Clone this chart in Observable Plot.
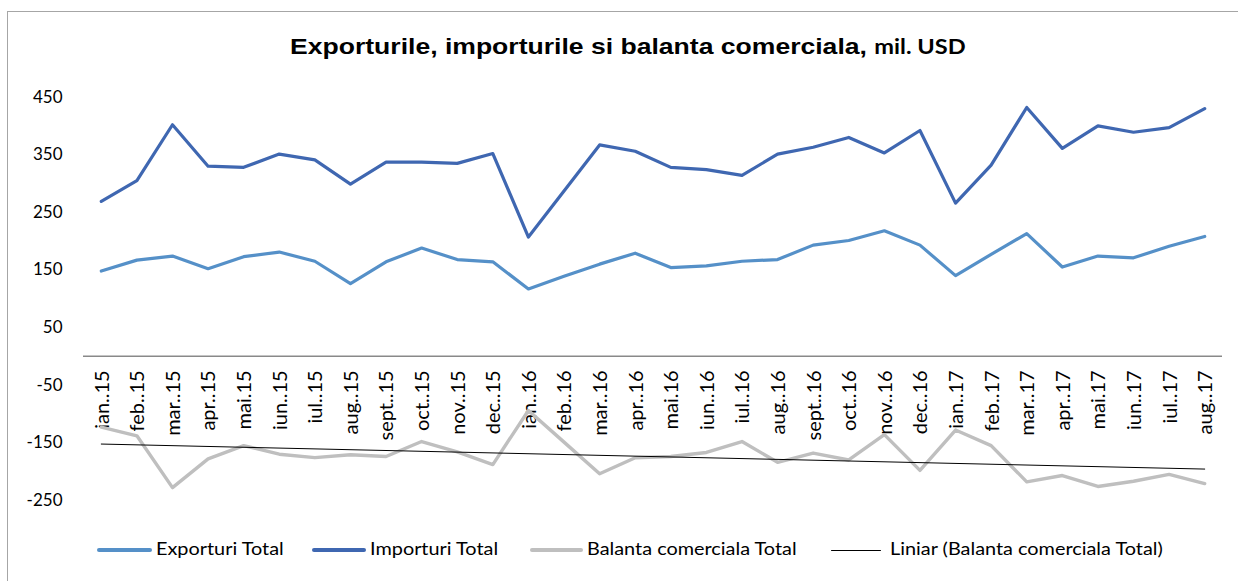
<!DOCTYPE html>
<html><head><meta charset="utf-8">
<script src="https://cdn.jsdelivr.net/npm/d3@7"></script>
<script src="https://cdn.jsdelivr.net/npm/@observablehq/plot@0.6"></script>
<style>
body{margin:0;background:#fff;}
#wrap{position:relative;width:1238px;height:581px;overflow:hidden;font-family:Lato,sans-serif;}
#frame{position:absolute;left:7px;top:11px;width:1300px;height:700px;border:1.3px solid #a6a6a6;box-sizing:border-box;}
#title{position:absolute;left:290px;top:33px;white-space:nowrap;font-family:"Liberation Sans",Arial,sans-serif;font-weight:bold;font-size:22.5px;line-height:26px;color:#000;transform:scaleX(1.18);transform-origin:0 0;}
#title span{font-family:Lato,sans-serif;font-size:20px;}
#chart{position:absolute;left:0;top:0;}
.leg{position:absolute;top:537px;height:24px;font-size:17.5px;color:#000;white-space:nowrap;}
.sw{position:absolute;top:12px;}
.lt{position:absolute;top:0;line-height:24px;transform:scaleX(1.135);transform-origin:0 0;}
</style></head>
<body>
<div id="wrap">
  <div id="frame"></div>
  <div id="chart"></div>
  <div id="title">Exporturile, importurile si balanta comerciala, <span>mil. USD</span></div>
  <div id="legend"></div>
</div>
<script>
const months = ["ian..15","feb..15","mar..15","apr..15","mai.15","iun..15","iul..15","aug..15","sept..15","oct..15","nov..15","dec..15",
  "ian..16","feb..16","mar..16","apr..16","mai.16","iun..16","iul..16","aug..16","sept..16","oct..16","nov..16","dec..16",
  "ian..17","feb..17","mar..17","apr..17","mai.17","iun..17","iul..17","aug..17"];
const exportsTotal = [148,167,174,152,173,181,165,126,164,188,168,164,
  117,139,160,179,154,157,165,168,193,201,218,193,
  140,177,213,155,174,171,191,208];
const importsTotal = [269,305,402,330,328,351,341,299,337,337,335,352,
  207,287,367,356,328,324,314,351,363,380,353,392,
  266,332,432,361,400,389,397,430];
const balanceTotal = [-123,-138,-228,-178,-155,-170,-176,-171,-174,-148,-166,-188,
  -94,-149,-204,-176,-174,-167,-148,-184,-168,-180,-136,-198,
  -128,-155,-218,-207,-226,-217,-205,-221];
const yTicks = [-250,-150,-50,50,150,250,350,450];

const colors = {exp:"#5590c8", imp:"#3f67b1", bal:"#bfbfbf", trend:"#000000"};
const data = months.map((m,i)=>({i, m, exp:exportsTotal[i], imp:importsTotal[i], bal:balanceTotal[i]}));

const chart = Plot.plot({
  width:1238, height:581,
  marginLeft:83, marginRight:16, marginTop:96.6, marginBottom:81.2,
  style:{fontFamily:"Lato, sans-serif", fontSize:"17px", background:"transparent", color:"#000"},
  x:{domain:[-0.5, months.length-0.5], axis:null},
  y:{domain:[-250,450], axis:null},
  marks:[
    Plot.axisY({ticks:yTicks, tickSize:0, tickPadding:21, label:null, fontSize:17, tickFormat:d=>String(d)}),
    Plot.ruleY([0], {stroke:"#898989", strokeWidth:1.6}),
    Plot.text(data, {x:"i", y:()=>0, text:"m", rotate:-90, textAnchor:"end", dy:14, dx:1, fontSize:20, fill:"#000"}),
    Plot.line(data, {x:"i", y:"exp", stroke:colors.exp, strokeWidth:3.2, strokeLinejoin:"round"}),
    Plot.line(data, {x:"i", y:"imp", stroke:colors.imp, strokeWidth:3.2, strokeLinejoin:"round"}),
    Plot.line(data, {x:"i", y:"bal", stroke:colors.bal, strokeWidth:3.4, strokeLinejoin:"round"}),
    Plot.linearRegressionY(data, {x:"i", y:"bal", stroke:colors.trend, strokeWidth:1, ci:0})
  ]
});
document.getElementById("chart").appendChild(chart);

const legendItems = [
  {label:"Exporturi Total", color:colors.exp, w:3.2, sx:97, sw:55, tx:156},
  {label:"Importuri Total", color:colors.imp, w:3.2, sx:312, sw:54, tx:370},
  {label:"Balanta comerciala Total", color:colors.bal, w:3.4, sx:530, sw:53, tx:587},
  {label:"Liniar (Balanta comerciala Total)", color:colors.trend, w:1, sx:831, sw:50, tx:890}
];
const leg = document.getElementById("legend");
legendItems.forEach(it=>{
  const sw = document.createElement("div");
  sw.className="leg";
  sw.innerHTML = `<div class="sw" style="left:${it.sx}px;width:${it.sw}px;height:${it.w}px;margin-top:${-it.w/2+1}px;background:${it.color};border-radius:2px"></div><div class="lt" style="left:${it.tx}px">${it.label}</div>`;
  leg.appendChild(sw);
});
</script>
</body></html>
